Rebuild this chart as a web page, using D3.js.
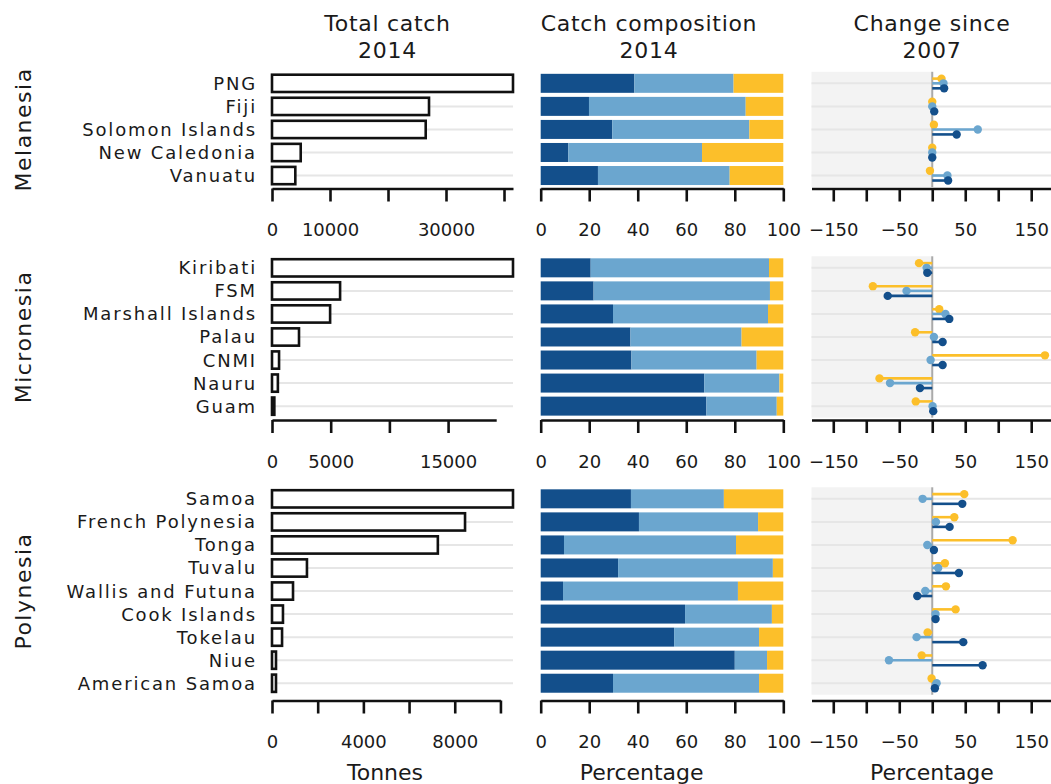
<!DOCTYPE html>
<html>
<head>
<meta charset="utf-8">
<script src="https://cdn.jsdelivr.net/npm/d3@7"></script>
<style>
  html, body { margin: 0; padding: 0; background: #fff; }
  svg { display: block; font-family: "DejaVu Sans", sans-serif; }
</style>
</head>
<body>
<svg id="chart" width="1051" height="784"></svg>
<script>
// ---------------- DATA ----------------
const regions = ["Melanesia", "Micronesia", "Polynesia"];

const melanesiaCountries = ["PNG", "Fiji", "Solomon Islands", "New Caledonia", "Vanuatu"];
const melanesiaTotal = [41550, 27070, 26500, 4950, 4020];
const melanesiaShareDark = [38.6, 19.9, 29.5, 11.4, 23.6];
const melanesiaShareLight = [40.9, 64.6, 56.5, 55.1, 54.3];
const melanesiaShareYellow = [20.5, 15.5, 14.0, 33.5, 22.1];
const melanesiaChangeYellow = [14, 0, 2.5, 0, -3.5];
const melanesiaChangeLight = [17, 0, 69, 0, 23];
const melanesiaChangeDark = [18, 3, 37, 0, 24];

const micronesiaCountries = ["Kiribati", "FSM", "Marshall Islands", "Palau", "CNMI", "Nauru", "Guam"];
const micronesiaTotal = [20530, 5800, 4950, 2300, 600, 500, 200];
const micronesiaShareDark = [20.6, 21.8, 29.8, 37.0, 37.4, 67.4, 68.3];
const micronesiaShareLight = [73.5, 72.7, 63.9, 45.8, 51.6, 31.0, 29.0];
const micronesiaShareYellow = [5.9, 5.5, 6.3, 17.2, 11.0, 1.6, 2.7];
const micronesiaChangeYellow = [-20, -90, 10.6, -26, 170.8, -80, -25];
const micronesiaChangeLight = [-8.5, -39, 20, 2.5, -2.5, -64, 0.5];
const micronesiaChangeDark = [-7.5, -67.5, 25.8, 15.7, 15.7, -18.6, 1.5];

const polynesiaCountries = ["Samoa", "French Polynesia", "Tonga", "Tuvalu", "Wallis and Futuna", "Cook Islands", "Tokelau", "Niue", "American Samoa"];
const polynesiaTotal = [10550, 8450, 7260, 1530, 920, 480, 440, 175, 175];
const polynesiaShareDark = [37.2, 40.5, 9.6, 31.9, 9.2, 59.5, 55.0, 80.0, 29.8];
const polynesiaShareLight = [38.3, 49.1, 70.9, 63.8, 72.1, 35.8, 35.0, 13.3, 60.2];
const polynesiaShareYellow = [24.5, 10.4, 19.5, 4.3, 18.7, 4.7, 10.0, 6.7, 10.0];
const polynesiaChangeYellow = [48.5, 33.4, 121.8, 19.2, 20.7, 35.4, -7, -16, -1];
const polynesiaChangeLight = [-14.6, 5.6, -7.5, 9, -10.6, 5, -23.7, -65.6, 6.6];
const polynesiaChangeDark = [45.5, 26.3, 2.5, 40.4, -22.7, 5, 47, 76.3, 4];

// axis ticks (tick values and which of them carry labels)
const totalTicks = [[0, 10000, 20000, 30000, 40000], [0, 5000, 10000, 15000], [0, 2000, 4000, 6000, 8000, 10000]];
const totalTickLabels = [[0, 10000, 30000], [0, 5000, 15000], [0, 4000, 8000]];
const totalAxisEnd = [41550, 19100, 10000];
const shareTicks = [0, 20, 40, 60, 80, 100];
const changeTicks = [-150, -100, -50, 0, 50, 100, 150];
const changeTickLabels = [-150, -50, 50, 150];

const headers = [["Total catch", "2014"], ["Catch composition", "2014"], ["Change since", "2007"]];
const axisTitles = ["Tonnes", "Percentage", "Percentage"];

// ---------------- STYLE / LAYOUT ----------------
const C_DARK = "#134f8b", C_LIGHT = "#6ba6cf", C_YELLOW = "#fcbf2a";
const GRID = "#e6e6e6", SHADE = "#f3f3f3";
const TXT = "#1a1a1a";
const ROW = 23.05;
const layout = [
  { top: 71.8, axisY: 188.5 },
  { top: 256.3, axisY: 420 },
  { top: 487.3, axisY: 700.5 }
];
const P1 = [272, 513], P2 = [540.7, 783.3], P3 = [811.5, 1053];

const regionData = [
  { countries: melanesiaCountries, total: melanesiaTotal, dark: melanesiaShareDark, light: melanesiaShareLight, yellow: melanesiaShareYellow, cY: melanesiaChangeYellow, cL: melanesiaChangeLight, cD: melanesiaChangeDark },
  { countries: micronesiaCountries, total: micronesiaTotal, dark: micronesiaShareDark, light: micronesiaShareLight, yellow: micronesiaShareYellow, cY: micronesiaChangeYellow, cL: micronesiaChangeLight, cD: micronesiaChangeDark },
  { countries: polynesiaCountries, total: polynesiaTotal, dark: polynesiaShareDark, light: polynesiaShareLight, yellow: polynesiaShareYellow, cY: polynesiaChangeYellow, cL: polynesiaChangeLight, cD: polynesiaChangeDark }
];

const svg = d3.select("#chart");

// headers
const headerX = [387.5, 649, 932];
headers.forEach((h, i) => {
  const t = svg.append("text").attr("text-anchor", "middle").attr("font-size", 22).attr("letter-spacing", 0.7).attr("fill", TXT);
  t.append("tspan").attr("x", headerX[i]).attr("y", 31).text(h[0]);
  t.append("tspan").attr("x", headerX[i]).attr("y", 58).text(h[1]);
});

const xShare = d3.scaleLinear().domain([0, 100]).range(P2);
const xChange = d3.scaleLinear().domain([-183, 183]).range(P3);

function styleAxis(g) {
  g.select(".domain").attr("stroke", "#111").attr("stroke-width", 2.6);
  g.selectAll(".tick line").attr("stroke", "#111").attr("stroke-width", 2.6);
  g.selectAll(".tick text").attr("font-size", 18).attr("fill", TXT).attr("font-family", "DejaVu Sans, sans-serif");
}

regionData.forEach((rd, ri) => {
  const L = layout[ri];
  const n = rd.countries.length;
  const y = d3.scaleBand().domain(rd.countries).range([L.top, L.top + n * ROW]).padding(0);
  const bh = 19, off = (ROW - bh) / 2;
  const cy = c => y(c) + ROW / 2;

  // region label
  svg.append("text")
    .attr("transform", `translate(31,${(L.top + L.top + n * ROW) / 2}) rotate(-90)`)
    .attr("text-anchor", "middle").attr("font-size", 22).attr("letter-spacing", 1.5).attr("fill", TXT)
    .text(regions[ri]);

  // country labels
  svg.append("g").selectAll("text").data(rd.countries).join("text")
    .attr("x", 257).attr("y", d => cy(d)).attr("dy", "0.36em")
    .attr("text-anchor", "end").attr("font-size", 18).attr("letter-spacing", 1.85).attr("fill", TXT)
    .text(d => d);

  // ---- Panel 1: total catch ----
  const xTot = d3.scaleLinear().domain([0, d3.max(rd.total)]).range(P1);
  const g1 = svg.append("g");
  g1.selectAll("line.grid").data(rd.countries).join("line")
    .attr("x1", P1[0]).attr("x2", P1[1]).attr("y1", d => cy(d)).attr("y2", d => cy(d))
    .attr("stroke", GRID).attr("stroke-width", 2);
  g1.selectAll("rect").data(rd.countries).join("rect")
    .attr("x", xTot(0)).attr("y", d => y(d) + 2.9)
    .attr("width", (d, i) => Math.max(0.5, xTot(rd.total[i]) - xTot(0)))
    .attr("height", 17.3)
    .attr("fill", "#fff").attr("stroke", "#111").attr("stroke-width", 2.6);
  const axScale1 = d3.scaleLinear().domain([0, totalAxisEnd[ri]]).range([xTot(0), xTot(totalAxisEnd[ri])]);
  const labelled1 = new Set(totalTickLabels[ri]);
  svg.append("g").attr("transform", `translate(0,${L.axisY})`)
    .call(d3.axisBottom(axScale1).tickValues(totalTicks[ri]).tickSize(13).tickSizeOuter(0).tickPadding(22)
      .tickFormat(v => labelled1.has(v) ? String(v) : ""))
    .call(styleAxis);

  // ---- Panel 2: composition ----
  const g2 = svg.append("g");
  rd.countries.forEach((c, i) => {
    const segs = [[0, rd.dark[i], C_DARK], [rd.dark[i], rd.dark[i] + rd.light[i], C_LIGHT], [rd.dark[i] + rd.light[i], rd.dark[i] + rd.light[i] + rd.yellow[i], C_YELLOW]];
    segs.forEach(s => {
      g2.append("rect").attr("x", xShare(s[0])).attr("y", y(c) + off)
        .attr("width", xShare(s[1]) - xShare(s[0])).attr("height", bh).attr("fill", s[2]);
    });
  });
  svg.append("g").attr("transform", `translate(0,${L.axisY})`)
    .call(d3.axisBottom(xShare).tickValues(shareTicks).tickSize(13).tickSizeOuter(0).tickPadding(22).tickFormat(d3.format("d")))
    .call(styleAxis);

  // ---- Panel 3: change ----
  const g3 = svg.append("g");
  g3.append("rect").attr("x", P3[0]).attr("y", L.top).attr("width", xChange(0) - P3[0]).attr("height", n * ROW).attr("fill", SHADE);
  g3.selectAll("line.grid").data(rd.countries).join("line")
    .attr("x1", P3[0]).attr("x2", 1051).attr("y1", d => cy(d)).attr("y2", d => cy(d))
    .attr("stroke", GRID).attr("stroke-width", 2);
  g3.append("line").attr("x1", xChange(0)).attr("x2", xChange(0)).attr("y1", L.top).attr("y2", L.top + n * ROW)
    .attr("stroke", "#aaa").attr("stroke-width", 2);
  const series = [[rd.cY, C_YELLOW, -4.7], [rd.cL, C_LIGHT, 0], [rd.cD, C_DARK, 5]];
  series.forEach(([vals, col, dy]) => {
    rd.countries.forEach((c, i) => {
      const yy = cy(c) + dy;
      g3.append("line").attr("x1", xChange(0)).attr("x2", xChange(vals[i])).attr("y1", yy).attr("y2", yy)
        .attr("stroke", col).attr("stroke-width", 2.6);
      g3.append("circle").attr("cx", xChange(vals[i])).attr("cy", yy).attr("r", 4.2).attr("fill", col);
    });
  });
  const labelled3 = new Set(changeTickLabels);
  svg.append("g").attr("transform", `translate(0,${L.axisY})`)
    .call(d3.axisBottom(xChange).tickValues(changeTicks).tickSize(13).tickSizeOuter(0).tickPadding(22)
      .tickFormat(v => labelled3.has(v) ? d3.format("d")(v) : ""))
    .call(styleAxis);
});

// axis titles
const titleX = [385, 641.7, 932];
axisTitles.forEach((t, i) => {
  svg.append("text").attr("x", titleX[i]).attr("y", 772).attr("dy", "0.36em")
    .attr("text-anchor", "middle").attr("font-size", 22).attr("fill", TXT).text(t);
});
</script>
</body>
</html>
